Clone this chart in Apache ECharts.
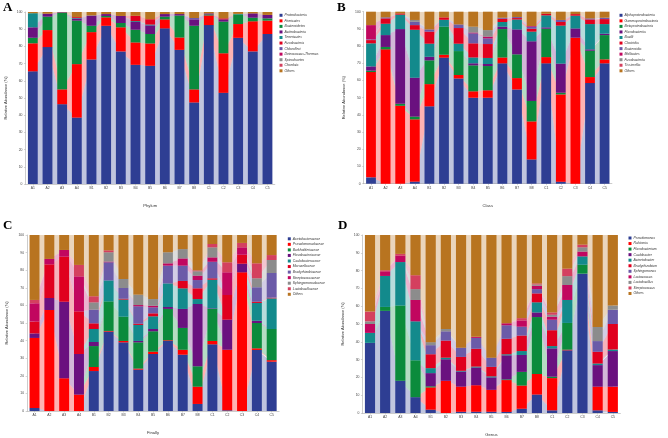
<!DOCTYPE html>
<html><head><meta charset="utf-8">
<script src="https://cdn.jsdelivr.net/npm/echarts@6/dist/echarts.min.js"></script>
<style>html,body{margin:0;padding:0;background:#fff}#c{width:668px;height:438px}</style>
</head><body><div id="c"></div>
<script>
const samples = ['A1','A2','A3','A4','B1','B2','B3','B4','B5','B6','B7','B8','C1','C2','C3','C4','C5'];
const yTicks = [0,10,20,30,40,50,60,70,80,90,100];

const phylumNames = ['Proteobacteria','Firmicutes','Bacteroidetes','Actinobacteria','Tenericutes','Fusobacteria','Chloroflexi','Deinococcus-Thermus','Spirochaetes','Chordata','Others'];
// one row per sample, one column per taxon
const phylumRows = [
 [65.5,16.3,3.2,6.1,8.2,0,0,0,0,0,0.7],
 [79.6,9.9,7.8,1.7,0,0,0,0,0,0,1.0],
 [46.4,8.6,44.6,0.3,0,0,0,0,0,0,0.1],
 [38.6,31.1,25.3,1.2,0.3,0.5,0,0,0,0,3.0],
 [72.4,15.9,3.7,5.7,0,0,0.3,0,0,0,2.0],
 [92.0,4.9,0.8,1.1,0,0,0,0,0,0,1.2],
 [77.1,14.0,2.5,4.1,0,0,0,0,0,0,2.3],
 [69.3,13.0,7.4,4.5,0.5,3.1,0,0,0,0,2.2],
 [68.7,13.0,5.5,5.0,0.5,3.1,0,0,0,0,4.2],
 [90.5,5.2,1.6,1.5,0,0,0,0,0,0,1.2],
 [78.0,7.2,12.8,0.8,0,0,0,0,0,0,1.2],
 [47.4,7.6,37.0,3.7,0,0,0.8,0,0,0,3.5],
 [92.4,5.6,0.6,0.6,0,0,0,0,0,0,0.8],
 [53.0,23.0,18.4,1.3,0,0.6,0,0,0,0,3.7],
 [85.0,8.0,5.6,0,0.3,0,0,0,0,0,1.1],
 [77.1,17.5,2.1,2.5,0,0,0,0,0,0,0.8],
 [87.2,7.8,1.3,2.0,0,0,0,0,0,0,1.7]
];

const classNames = ['Alphaproteobacteria','Gammaproteobacteria','Betaproteobacteria','Flavobacteriia','Bacilli','Clostridia','Bacteroidia','Mollicutes','Fusobacteriia','Tissierellia','Others'];
const classRows = [
 [3.7,61.2,0.8,2.5,13.4,1.9,0.4,8.3,0,0,7.8],
 [0,78.1,1.4,6.9,6.6,3.1,0.6,0,0,0,3.3],
 [0,45.3,1.2,43.4,8.4,0.7,0,0,0,0,1.0],
 [1.2,36.2,1.6,22.6,27.9,2.7,2.0,0,1.0,0,4.8],
 [45.0,12.9,13.8,2.1,7.6,7.0,1.3,0,0,0,10.3],
 [73.3,1.7,16.3,0,4.0,1.4,0,0,0,0,3.3],
 [61.2,2.0,13.9,0,4.3,9.1,2.1,0,0,0,7.4],
 [50.0,3.7,15.1,1.2,3.4,8.2,5.8,0.5,3.4,0,8.7],
 [50.0,4.3,14.1,1.2,3.5,8.1,3.3,1.0,3.8,0,10.7],
 [70.0,3.4,16.5,1.4,2.7,1.9,0.6,0,0,0,3.5],
 [54.8,6.6,13.8,14.5,5.8,0.8,0.6,0,0,0,3.1],
 [14.1,22.1,11.9,34.7,5.6,1.7,1.2,0.4,0,0,8.3],
 [70.0,3.6,16.5,0.8,7.0,0.9,0,0,0,0,1.2],
 [1.2,50.7,1.0,16.9,22.1,2.1,1.2,0,0,0,4.8],
 [0,84.9,0,5.4,7.4,0.9,0,0,0,0,1.4],
 [58.5,3.5,15.3,0.8,14.7,2.7,0.6,0,0,0,3.9],
 [70.0,2.3,14.1,0.8,5.6,2.9,0.8,0,0,0,3.5]
];

const familyNames = ['Acetobacteraceae','Pseudomonadaceae','Burkholderiaceae','Flavobacteriaceae','Caulobacteraceae','Moraxellaceae','Bradyrhizobiaceae','Streptococcaceae','Sphingomonadaceae','Lactobacillaceae','Others'];
const familyRows = [
 [1.7,39.8,0,2.6,0,6.7,0,10.4,0,1.9,36.9],
 [0,57.4,0,6.8,0,19.1,0,3.1,0,0,13.6],
 [0,18.6,0,43.5,0,25.6,0,3.8,0,0,8.5],
 [0,9.3,0,23.1,0,24.2,0,19.9,0,6.5,17.0],
 [22.7,2.3,11.9,2.3,7.4,3.2,7.8,0,4.1,3.5,34.8],
 [45.1,0.4,16.8,0,11.9,0,10.3,0.4,5.3,1.1,8.7],
 [39.0,0.8,13.8,0,9.7,0.5,6.1,0,5.1,0,25.0],
 [23.5,0.6,14.9,0.8,9.1,0.7,9.9,0.7,5.9,0,33.9],
 [32.4,1.3,11.6,1.3,7.2,1.7,3.4,0.9,3.8,0,36.4],
 [39.8,0.4,17.8,1.1,13.4,0,10.1,1.3,6.3,0,9.8],
 [32.0,2.8,12.4,10.8,11.7,4.2,8.7,4.1,5.3,0,8.0],
 [4.0,9.8,11.6,35.4,2.8,6.1,4.7,2.5,2.5,0.5,20.1],
 [37.9,1.9,18.2,0.3,16.3,0.8,9.4,2.5,5.7,1.9,5.1],
 [0.4,34.4,0,17.1,0,14.0,0,12.9,0,5.7,15.5],
 [0,78.8,0,4.9,0,5.1,0,4.2,0,2.5,4.5],
 [34.7,0.9,14.4,1.3,10.1,0.7,8.2,0,5.1,8.5,16.1],
 [28.0,0.9,17.7,0,17.4,0.4,14.0,0,7.4,2.8,11.4]
];

const genusNames = ['Pseudomonas','Ralstonia','Flavobacterium','Caulobacter','Acinetobacter','Bradyrhizobium','Sphingomonas','Lactococcus','Lactobacillus','Streptococcus','Others'];
const genusRows = [
 [39.4,0,0,0,5.6,0,0,5.0,1.5,5.5,43.0],
 [57.4,0,2.2,0,17.4,0,0,2.6,0,0.6,19.8],
 [18.1,0,42.3,0,24.4,0,0,3.7,0,0.9,10.6],
 [8.9,0,20.7,0,21.9,0,0,12.0,6.1,7.8,22.6],
 [1.9,12.5,0.6,7.4,2.8,7.8,5.1,0,1.7,0,60.2],
 [0,18.1,0,12.1,0.9,9.6,5.2,0,1.3,0,52.8],
 [0.7,14.1,0,8.5,0.4,7.8,5.2,0,0,0,63.3],
 [0.7,14.9,0,10.0,0.5,10.0,6.1,0.6,0,0,57.2],
 [0.7,12.3,0,7.0,0.6,5.3,5.2,0,0,0,68.9],
 [0.6,17.9,0.4,13.5,0.6,8.7,7.6,1.1,0,0,49.6],
 [2.4,13.0,7.7,9.5,2.2,8.7,5.0,3.5,0,1.3,46.7],
 [10.4,11.5,32.0,2.6,5.7,5.0,2.4,1.9,0.7,0.6,27.2],
 [1.5,18.1,0.8,15.9,1.3,8.9,5.9,1.7,1.1,1.3,43.5],
 [35.2,0.4,15.0,0,12.9,0,0,8.4,5.0,4.2,18.9],
 [78.3,0,5.0,0,4.7,0,0,2.7,2.4,1.5,5.4],
 [1.5,13.3,0,12.1,0.9,6.6,6.0,0,7.9,0,51.7],
 [0.6,14.2,0,20.0,0.9,14.3,8.0,0,2.4,0,39.6]
];

const palette = ['#2E3E93','#FF0000','#0B8B3C','#6A117F','#138A8C','#E0001E','#6B5BA8','#C1075F','#8C8C8C','#D4405F','#B87420'];

const panels = [
 {letter:'A', names:phylumNames, rows:phylumRows, xname:'Phylum',
  grid:{left:25.5, top:12, width:249.3, height:172}, legend:{left:279.5, top:13.3}, lx:3, ly:1},
 {letter:'B', names:classNames, rows:classRows, xname:'Class',
  grid:{left:363.7, top:11.7, width:248.2, height:172}, legend:{left:619.5, top:13.3}, lx:337, ly:1},
 {letter:'C', names:familyNames, rows:familyRows, xname:'Finally',
  grid:{left:27.1, top:235, width:252, height:176}, legend:{left:287.8, top:236.8}, lx:3, ly:219},
 {letter:'D', names:genusNames, rows:genusRows, xname:'Genus',
  grid:{left:362.4, top:235, width:258, height:180}, legend:{left:628.5, top:236}, lx:338, ly:219}
];

const font = 'Liberation Sans, Arial, sans-serif';
const grids=[], xAxes=[], yAxes=[], series=[], legends=[], graphics=[];
panels.forEach((p, pi) => {
  grids.push(p.grid);
  xAxes.push({type:'category', gridIndex:pi, data:samples, boundaryGap:true,
    name:p.xname, nameLocation:'middle', nameGap:20,
    nameTextStyle:{fontSize:4.2, color:'#333', fontFamily:font},
    axisLine:{lineStyle:{color:'#aaa', width:0.6}},
    axisTick:{show:true, length:1.5, lineStyle:{color:'#aaa', width:0.5}, alignWithLabel:true},
    axisLabel:{interval:0, fontSize:3.4, color:'#444', margin:3, fontFamily:font}});
  yAxes.push({type:'value', gridIndex:pi, min:yTicks[0], max:yTicks[yTicks.length-1], interval:10,
    name:'Relative Abundance (%)', nameLocation:'middle', nameGap:18, nameRotate:90,
    nameTextStyle:{fontSize:4, color:'#333', fontFamily:font},
    splitLine:{show:false},
    axisLine:{show:true, lineStyle:{color:'#aaa', width:0.6}},
    axisTick:{show:true, length:1.5, lineStyle:{color:'#aaa', width:0.5}},
    axisLabel:{fontSize:3.4, color:'#444', margin:3, fontFamily:font}});
  p.names.forEach((n, ti) => {
    const vals = p.rows.map(r => r[ti]);
    series.push({type:'line', name:'flow'+pi+'_'+ti, xAxisIndex:pi, yAxisIndex:pi, stack:'flow'+pi,
      data:vals, symbol:'none', lineStyle:{width:0}, silent:true, z:1,
      areaStyle:{color:palette[ti], opacity:0.3}, emphasis:{disabled:true}});
    series.push({type:'bar', name:n, xAxisIndex:pi, yAxisIndex:pi, stack:'bar'+pi,
      data:vals, barWidth:'67%', itemStyle:{color:palette[ti]}, z:2});
  });
  legends.push({orient:'vertical', left:p.legend.left, top:p.legend.top, data:p.names,
    itemWidth:3, itemHeight:3, itemGap:1.55, icon:'rect', selectedMode:false,
    textStyle:{fontSize:3.4, lineHeight:4, color:'#333', fontStyle:'italic', fontFamily:font, padding:[0,0,0,-3]},
    padding:0});
  graphics.push({type:'text', left:p.lx, top:p.ly,
    style:{text:p.letter, font:'bold 13px "Liberation Serif", "Times New Roman", serif', fill:'#000'}});
});

const chart = echarts.init(document.getElementById('c'), null, {renderer:'canvas'});
chart.setOption({
  animation:false, backgroundColor:'#fff', color:palette,
  grid:grids, xAxis:xAxes, yAxis:yAxes, series:series, legend:legends, graphic:graphics
});
</script></body></html>
